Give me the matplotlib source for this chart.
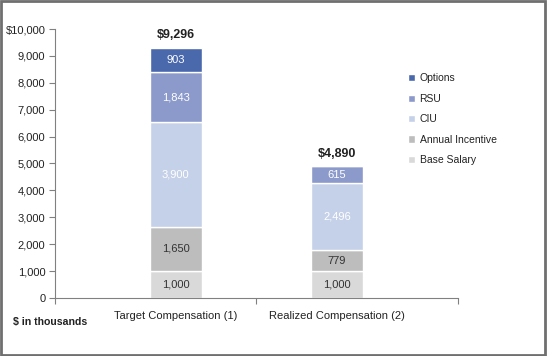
import matplotlib.pyplot as plt
from matplotlib.patches import Rectangle
from matplotlib.ticker import FuncFormatter

plt.rcParams['font.family'] = ['Liberation Sans', 'DejaVu Sans']

categories = ['Target Compensation (1)', 'Realized Compensation (2)']
components = ['Base Salary', 'Annual Incentive', 'CIU', 'RSU', 'Options']
base_salary = [1000, 1000]
annual_incentive = [1650, 779]
ciu = [3900, 2496]
rsu = [1843, 615]
options = [903, 0]
totals = ['$9,296', '$4,890']

series = [base_salary, annual_incentive, ciu, rsu, options]
colors = ['#d9d9d9', '#bdbdbd', '#c5d1e8', '#8c9acb', '#4a68ac']
text_colors = ['#333333', '#333333', 'white', 'white', 'white']

fig = plt.figure(figsize=(5.47, 3.56), dpi=100)
ax = fig.add_axes([0.1005, 0.163, 0.7365, 0.7555])

x = [0, 1]
bottoms = [0, 0]
for vals, name, col, tcol in zip(series, components, colors, text_colors):
    ax.bar(x, vals, 0.32, bottom=bottoms, color=col, edgecolor='white',
           linewidth=1, label=name)
    for i, v in enumerate(vals):
        if v > 0:
            ax.text(x[i], bottoms[i] + v / 2, f'{v:,}', ha='center', va='center',
                    fontsize=8, color=tcol)
    bottoms = [b + v for b, v in zip(bottoms, vals)]

for i, t in enumerate(totals):
    ax.text(x[i], bottoms[i] + 250, t, ha='center', va='bottom',
            fontsize=9, fontweight='bold', color='#222222')

ax.set_xlim(-0.75, 1.75)
ax.set_ylim(0, 10000)
ax.set_yticks(range(0, 10001, 1000))
ax.yaxis.set_major_formatter(FuncFormatter(
    lambda v, p: f'${v:,.0f}' if v == 10000 else f'{v:,.0f}'))
ax.set_xticks([-0.75, 0.5, 1.75])
ax.set_xticklabels([])
for i, c in enumerate(categories):
    ax.text(x[i], -0.05, c, transform=ax.get_xaxis_transform(),
            ha='center', va='top', fontsize=8, color='#222222')

for s in ['top', 'right']:
    ax.spines[s].set_visible(False)
for s in ['left', 'bottom']:
    ax.spines[s].set_color('#808080')
ax.tick_params(axis='both', colors='#808080', labelcolor='#222222',
               labelsize=8, length=4, direction='out')
ax.tick_params(axis='y', pad=3)

fig.text(0.024, 0.095, '$ in thousands', fontsize=7.6, fontweight='bold',
         color='#222222', va='center')

handles, labels = ax.get_legend_handles_labels()
leg = fig.legend(handles[::-1], labels[::-1], loc='upper left',
                 bbox_to_anchor=(0.729, 0.82), frameon=False, fontsize=7.5,
                 handlelength=0.7, handleheight=0.7, handletextpad=0.4,
                 labelspacing=1.0, labelcolor='#222222')

fig.patches.append(Rectangle((0.002, 0.003), 0.995, 0.994, transform=fig.transFigure,
                             fill=False, edgecolor='#6f6f6f', linewidth=2))

fig.savefig('out.png', dpi=100)
